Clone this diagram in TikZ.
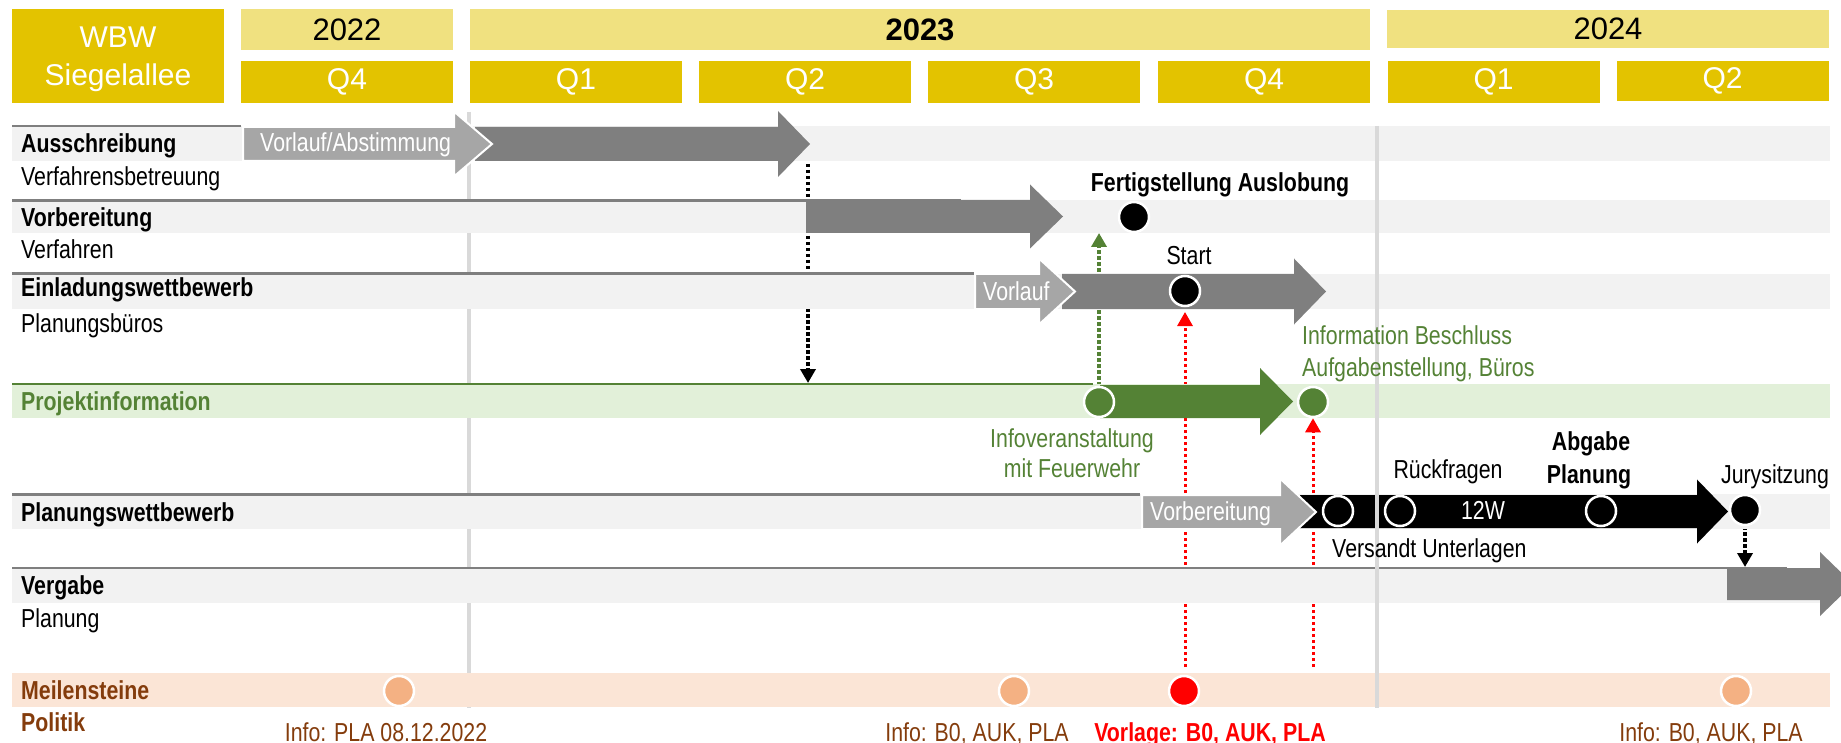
\documentclass[tikz,border=0pt]{standalone}
\usepackage{fontspec}
\setmainfont{Liberation Sans}
\newfontfamily\narrow{Liberation Sans}[FakeStretch=0.82]
\usetikzlibrary{arrows.meta}
\definecolor{gold}{RGB}{227,195,0}
\definecolor{lgold}{RGB}{240,225,128}
\definecolor{bandgray}{HTML}{F2F2F2}
\definecolor{darkarrow}{HTML}{7F7F7F}
\definecolor{lightarrow}{HTML}{A6A6A6}
\definecolor{pgreen}{HTML}{548235}
\definecolor{lgreen}{HTML}{E2F0D9}
\definecolor{peach}{HTML}{FBE5D6}
\definecolor{peachdot}{HTML}{F4B183}
\definecolor{brown}{HTML}{843C0C}
\definecolor{yline}{HTML}{D9D9D9}
\definecolor{rowline}{HTML}{7F7F7F}
\pgfdeclarelayer{lyear}
\pgfdeclarelayer{ldots}
\pgfdeclarelayer{lband}
\pgfdeclarelayer{ltop}
\pgfdeclarelayer{ltxt}
\pgfsetlayers{lyear,ldots,lband,main,ltop,ltxt}
% [style]{x0}{x head}{x tip}{y centre}{body half}{head half}
\newcommand\blockarr[7][]{\fill[#1] ({#2},{#5-#6}) -- ({#3},{#5-#6}) -- ({#3},{#5-#7}) -- ({#4},{#5}) -- ({#3},{#5+#7}) -- ({#3},{#5+#6}) -- ({#2},{#5+#6}) -- cycle;}
\tikzset{
  lab/.style={inner sep=0pt, font=\narrow\fontsize{26}{30}\selectfont},
  blab/.style={inner sep=0pt, font=\narrow\fontsize{26}{30}\selectfont\bfseries},
  hbox/.style={inner sep=0pt, font=\fontsize{30}{38}\selectfont},
  ybox/.style={inner sep=0pt, fill=lgold, minimum height=41pt, font=\fontsize{31}{36}\selectfont},
  qbox/.style={inner sep=0pt, fill=gold, text=white, minimum width=212pt, minimum height=42pt, font=\fontsize{30}{36}\selectfont},
  ms/.style={circle, minimum size=30pt, inner sep=0pt, draw=white, line width=2.5pt},
  dotc/.style={line width=3.5pt, dash pattern=on 3.5pt off 2.5pt, -{Triangle[width=15pt,length=14pt]}},
  yearline/.style={draw=yline, line width=4.5pt},
  rline/.style={draw=rowline, line width=2.5pt},
  light/.style={fill=lightarrow, draw=white, line width=2pt},
}
\begin{document}
\begin{tikzpicture}[x=1pt, y=-1pt]
\useasboundingbox (0,0) rectangle (1841,743);

% ---------- header ----------
\fill[gold] (12,9) rectangle (224,103);
\node[hbox, text=white, align=center] (wbw) at (118,59) {WBW\\Siegelallee};
\node[ybox, minimum width=212pt] (y22) at (347,29.5) {2022};
\node[ybox, minimum width=900pt] (y23) at (920,29.5) {\bfseries 2023};
\node[ybox, minimum width=442pt, minimum height=38pt] (y24) at (1608,29) {2024};
\node[qbox] (q224) at (347,82) {Q4};
\node[qbox] (q231) at (576,82) {Q1};
\node[qbox] (q232) at (805,82) {Q2};
\node[qbox] (q233) at (1034,82) {Q3};
\node[qbox] (q234) at (1264,82) {Q4};
\node[qbox] (q241) at (1493.5,82) {Q1};
\node[qbox, minimum height=40pt] (q242) at (1722.5,81) {Q2};

% ---------- left year line (below bands) ----------
\begin{pgfonlayer}{lyear}
\draw[yearline] (469,112) -- (469,708);
\end{pgfonlayer}

% ---------- bands and row lines ----------
\begin{pgfonlayer}{lband}
\fill[bandgray] (12,126) rectangle (1830,161);
\fill[bandgray] (12,200) rectangle (1830,233);
\fill[bandgray] (12,274) rectangle (1830,309);
\fill[lgreen]   (12,384) rectangle (1830,418);
\fill[bandgray] (12,494) rectangle (1830,529);
\fill[bandgray] (12,568) rectangle (1830,603);
\fill[peach]    (12,673) rectangle (1830,707);
\draw[rline] (12,126) -- (241,126);
\draw[rline] (12,200.5) -- (961,200.5);
\draw[rline] (12,273.5) -- (974,273.5);
\draw[draw=pgreen, line width=2.5pt] (12,384) -- (1093,384);
\draw[rline] (12,494.5) -- (1140,494.5);
\draw[rline] (12,568) -- (1787,568);
\end{pgfonlayer}

% ---------- block arrows ----------
\blockarr[fill=darkarrow]{475}{778}{810}{144}{17}{33}
\blockarr[light]{243}{454}{492}{144}{17}{32.5}
\blockarr[fill=darkarrow]{806}{1030}{1063}{216.5}{16.5}{32}
\blockarr[fill=darkarrow]{1062}{1294}{1326}{291.5}{17.5}{33}
\blockarr[light]{975}{1039}{1075}{291.5}{17.5}{33}
\blockarr[fill=pgreen]{1100}{1260}{1293}{401.5}{16.5}{33.5}
\blockarr[fill=black]{1300}{1697}{1728}{511.5}{16.5}{32}
\blockarr[light]{1142}{1280}{1316}{512}{17}{33.5}
\begin{scope}
\clip (0,0) rectangle (1841,743);
\blockarr[fill=darkarrow]{1727}{1820}{1853}{584}{16}{32}
\end{scope}

% ---------- milestones ----------
\node[ms, fill=black] (fa) at (1134,217) {};
\node[ms, fill=black] (start) at (1185,291) {};
\node[ms, fill=pgreen] (g1) at (1099,402) {};
\node[ms, fill=pgreen] (g2) at (1313,402) {};
\node[ms, fill=black] (vers) at (1338,511) {};
\node[ms, fill=black] (rueck) at (1400,511) {};
\node[ms, fill=black] (abg) at (1601,511) {};
\node[ms, fill=black] (jury) at (1745,510) {};
\node[ms, fill=peachdot] (m1) at (399,691) {};
\node[ms, fill=peachdot] (m2) at (1014,691) {};
\node[ms, fill=red] (m3) at (1184,691) {};
\node[ms, fill=peachdot] (m4) at (1736,691) {};

% ---------- dotted connectors (below bands) ----------
\begin{pgfonlayer}{ldots}
\coordinate (aDrop) at (808,146);
\coordinate (pInfo) at (808,383);
\draw[dotc, black] (aDrop) -- (pInfo);
\coordinate (gTip) at (1099,233);
\draw[dotc, pgreen] (g1) -- (gTip);
\coordinate (r1b) at (1185,667);
\coordinate (r1t) at (1185,312);
\draw[dotc, red, dash pattern=on 3pt off 3pt, line width=3pt] (r1b) -- (r1t);
\coordinate (r2b) at (1313,667);
\draw[dotc, red, dash pattern=on 3pt off 3pt, line width=3pt] (r2b) -- (g2.south);
\coordinate (jTip) at (1745,567);
\draw[dotc, black] (jury) -- (jTip);
\end{pgfonlayer}

% ---------- right year line (on top) ----------
\begin{pgfonlayer}{ltop}
\draw[yearline] (1377,126) -- (1377,708);
\end{pgfonlayer}

% ---------- texts ----------
\begin{pgfonlayer}{ltxt}
\node[blab, anchor=base west] (tAus) at (21,153) {Ausschreibung};
\node[lab, anchor=base west] (tAus2) at (21,186) {Verfahrensbetreuung};
\node[blab, anchor=base west] (tVor) at (21,227) {Vorbereitung};
\node[lab, anchor=base west] (tVor2) at (21,259) {Verfahren};
\node[blab, anchor=base west] (tEin) at (21,297) {Einladungswettbewerb};
\node[lab, anchor=base west] (tEin2) at (21,332) {Planungsbüros};
\node[blab, anchor=base west, text=pgreen] (tPro) at (21,410) {Projektinformation};
\node[blab, anchor=base west] (tPla) at (21,521) {Planungswettbewerb};
\node[blab, anchor=base west] (tVer) at (21,594) {Vergabe};
\node[lab, anchor=base west] (tVer2) at (21,627) {Planung};
\node[blab, anchor=base west, text=brown] (tMei) at (21,699) {Meilensteine};
\node[blab, anchor=base west, text=brown] (tPol) at (21,731) {Politik};

\node[lab, anchor=base west, text=white] (tVA) at (260,152) {Vorlauf/Abstimmung};
\node[lab, anchor=base west, text=white] (tVl) at (983,301) {Vorlauf};
\node[lab, anchor=base west, text=white] (tVb) at (1150,520) {Vorbereitung};
\node[lab, anchor=base, text=white] (t12) at (1483,519) {12W};

\node[blab, anchor=base] (tFA) at (1220,192) {Fertigstellung Auslobung};
\node[lab, anchor=base] (tSt) at (1189,265) {Start};
\node[lab, anchor=base west, text=pgreen] (tIB) at (1302,344) {Information Beschluss};
\node[lab, anchor=base west, text=pgreen] (tAB) at (1302,376) {Aufgabenstellung, Büros};
\node[lab, anchor=base, text=pgreen] (tIV) at (1072,447) {Infoveranstaltung};
\node[lab, anchor=base, text=pgreen] (tFW) at (1072,477) {mit Feuerwehr};
\node[lab, anchor=base] (tRF) at (1448,478) {Rückfragen};
\node[blab, anchor=base] (tAG) at (1591,450) {Abgabe};
\node[blab, anchor=base] (tPG) at (1589,483) {Planung};
\node[lab, anchor=base] (tJS) at (1775,483) {Jurysitzung};
\node[lab, anchor=base west] (tVU) at (1332,557) {Versandt Unterlagen};

\node[lab, anchor=base, text=brown] (tI1) at (386,741) {Info: PLA 08.12.2022};
\node[lab, anchor=base, text=brown] (tI2) at (977,741) {Info: B0, AUK, PLA};
\node[blab, anchor=base, text=red] (tVL) at (1210,741) {Vorlage: B0, AUK, PLA};
\node[lab, anchor=base, text=brown] (tI3) at (1711,741) {Info: B0, AUK, PLA};
\end{pgfonlayer}
\end{tikzpicture}
\end{document}
